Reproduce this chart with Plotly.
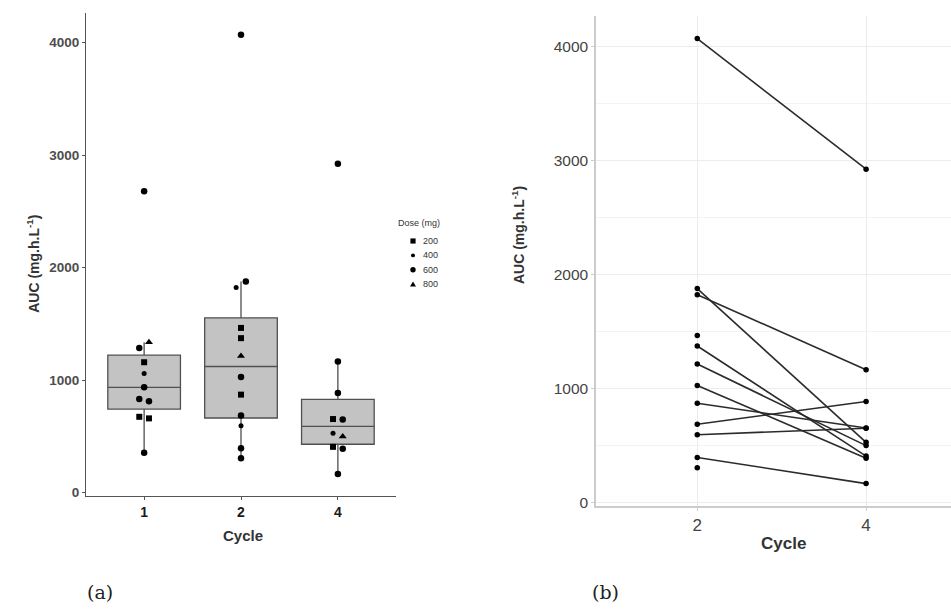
import numpy as np
import plotly.graph_objects as go

# ---------------- data ----------------
cycles = ["1", "2", "4"]

cycle1_auc = [2680, 1337, 1286, 1160, 1060, 937, 834, 813, 675, 661, 355]
cycle1_dose = [600, 800, 600, 200, 400, 600, 600, 600, 200, 200, 600]
cycle1_jitter = [0, 0.05, -0.05, 0, 0, 0, -0.05, 0.05, -0.05, 0.05, 0]

cycle2_auc = [4070, 1877, 1824, 1465, 1374, 1216, 1028, 872, 687, 596, 396, 306]
cycle2_dose = [600, 600, 400, 200, 200, 800, 600, 200, 600, 400, 600, 600]
cycle2_jitter = [0, 0.05, -0.05, 0, 0, 0, 0, 0, 0, 0, 0, 0]

cycle4_auc = [2925, 1166, 887, 655, 652, 529, 500, 408, 390, 167]
cycle4_dose = [600, 600, 600, 200, 600, 400, 800, 200, 600, 600]
cycle4_jitter = [0, 0, 0, -0.05, 0.05, -0.05, 0.05, -0.05, 0.05, 0]

# paired patients (panel b): cycle 2 -> cycle 4
pair_cycle2 = [4070, 1877, 1824, 1374, 1216, 1028, 872, 687, 596, 396]
pair_cycle4 = [2925, 529, 1166, 408, 500, 390, 655, 887, 652, 167]
# cycle 2 patients without a cycle 4 value
unpaired_cycle2 = [1465, 306]

panel_b_cycles = ["2", "4"]
doses = [200, 400, 600, 800]
y_ticks = [0, 1000, 2000, 3000, 4000]

# ---------------- styles ----------------
dose_symbol = {200: "square", 400: "circle", 600: "circle", 800: "triangle-up"}
dose_size = {200: 6, 400: 5, 600: 6.5, 800: 7}
FONT = "Liberation Sans"

auc_by_cycle = [cycle1_auc, cycle2_auc, cycle4_auc]
dose_by_cycle = [cycle1_dose, cycle2_dose, cycle4_dose]
jit_by_cycle = [cycle1_jitter, cycle2_jitter, cycle4_jitter]

fig = go.Figure()

# ---- panel (a): boxplots ----
q1s, meds, q3s, lows, highs = [], [], [], [], []
for vals in auc_by_cycle:
    a = np.array(vals, dtype=float)
    q1, med, q3 = np.percentile(a, [25, 50, 75])
    iqr = q3 - q1
    q1s.append(q1); meds.append(med); q3s.append(q3)
    lows.append(a[a >= q1 - 1.5 * iqr].min())
    highs.append(a[a <= q3 + 1.5 * iqr].max())

fig.add_trace(go.Box(
    x=list(range(len(cycles))), q1=q1s, median=meds, q3=q3s,
    lowerfence=lows, upperfence=highs, width=0.75, whiskerwidth=0,
    fillcolor="#c3c3c3", line=dict(color="#505050", width=1.3),
    boxpoints=False, showlegend=False, hoverinfo="skip",
    xaxis="x", yaxis="y"))

for d in doses:
    xs, ys = [], []
    for ci, (vals, ds, js) in enumerate(zip(auc_by_cycle, dose_by_cycle, jit_by_cycle)):
        for v, dd, j in zip(vals, ds, js):
            if dd == d:
                xs.append(ci + j)
                ys.append(v)
    fig.add_trace(go.Scatter(
        x=xs, y=ys, mode="markers", name=str(d), showlegend=False,
        marker=dict(symbol=dose_symbol[d], size=dose_size[d], color="black"),
        xaxis="x", yaxis="y"))

# ---- panel (b): paired lines ----
lx, ly = [], []
for a2, a4 in zip(pair_cycle2, pair_cycle4):
    lx += [0, 1, None]
    ly += [a2, a4, None]
fig.add_trace(go.Scatter(x=lx, y=ly, mode="lines",
                         line=dict(color="#2b2b2b", width=1.6),
                         showlegend=False, xaxis="x2", yaxis="y2"))
px = [0] * len(pair_cycle2) + [1] * len(pair_cycle4) + [0] * len(unpaired_cycle2)
py = pair_cycle2 + pair_cycle4 + unpaired_cycle2
fig.add_trace(go.Scatter(x=px, y=py, mode="markers",
                         marker=dict(color="black", size=5.5),
                         showlegend=False, xaxis="x2", yaxis="y2"))

# ---------------- layout ----------------
W, H = 951, 609
def fx(p): return p / W
def fy(p): return 1 - p / H

fig.update_layout(
    width=W, height=H, margin=dict(l=0, r=0, t=0, b=0),
    paper_bgcolor="white", plot_bgcolor="white",
    font=dict(family=FONT, color="#333333"),
    showlegend=False,
    xaxis=dict(domain=[fx(86), fx(396)], range=[-0.6, 2.6],
               tickvals=list(range(len(cycles))), ticktext=cycles,
               tickfont=dict(size=14, color="#1a1a1a", weight="bold"),
               showline=True, linecolor="#555555", linewidth=1,
               ticks="outside", ticklen=3, tickcolor="#555555",
               showgrid=False, zeroline=False, anchor="y"),
    yaxis=dict(domain=[fy(500), fy(13)], range=[-28, 4265],
               tickvals=y_ticks,
               tickfont=dict(size=13.5, color="#4d4d4d", weight="bold"),
               showline=True, linecolor="#555555", linewidth=1,
               ticks="outside", ticklen=3, tickcolor="#555555",
               showgrid=False, zeroline=False, anchor="x"),
    xaxis2=dict(domain=[fx(596), 1.0], range=[-0.6, 1.503],
                tickvals=[0, 1], ticktext=panel_b_cycles,
                tickfont=dict(size=17, color="#444444"),
                showline=True, linecolor="#cccccc", linewidth=1.5,
                ticks="outside", ticklen=3, tickcolor="#cccccc",
                showgrid=True, gridcolor="#ececec", gridwidth=1,
                zeroline=False, anchor="y2"),
    yaxis2=dict(domain=[fy(510), fy(16.5)], range=[-28, 4265],
                tickvals=y_ticks,
                tickfont=dict(size=15.5, color="#444444"),
                showline=True, linecolor="#cccccc", linewidth=1.5,
                ticks="outside", ticklen=3, tickcolor="#cccccc",
                showgrid=True, gridcolor="#ececec", gridwidth=1,
                minor=dict(tickvals=[500, 1500, 2500, 3500], showgrid=True,
                           gridcolor="#f3f3f3", gridwidth=1, ticks=""),
                zeroline=False, anchor="x2"),
)

anns = [
    dict(x=fx(33), y=fy(266), text="<b>AUC (mg.h.L<sup>-1</sup>)</b>", textangle=-90,
         font=dict(size=14, color="#333333"), xanchor="center"),
    dict(x=fx(243), y=fy(540), text="<b>Cycle</b>", font=dict(size=15, color="#333333"),
         xanchor="center"),
    dict(x=fx(518), y=fy(237), text="<b>AUC (mg.h.L<sup>-1</sup>)</b>", textangle=-90,
         font=dict(size=14, color="#333333"), xanchor="center"),
    dict(x=fx(783), y=fy(548), text="<b>Cycle</b>", font=dict(size=17, color="#333333"),
         xanchor="center"),
    dict(x=fx(100), y=fy(597), text="(a)", xanchor="center",
         font=dict(size=19, color="#222222", family="DejaVu Serif")),
    dict(x=fx(605), y=fy(597), text="(b)", xanchor="center",
         font=dict(size=19, color="#222222", family="DejaVu Serif")),
    dict(x=fx(396), y=fy(225), text="Dose (mg)", xanchor="left",
         font=dict(size=9, color="#333333")),
]

# custom compact legend (Dose)
legend_y = [243, 257.5, 272, 286.5]
shapes = []
sx = 413
for d, yy in zip(doses, legend_y):
    anns.append(dict(x=fx(421), y=fy(yy), text=str(d), xanchor="left",
                     font=dict(size=9, color="#333333")))
    if dose_symbol[d] == "square":
        r = 2.6
        shapes.append(dict(type="rect", xref="paper", yref="paper",
                           x0=fx(sx - r), x1=fx(sx + r), y0=fy(yy + r), y1=fy(yy - r),
                           fillcolor="black", line=dict(width=0)))
    elif dose_symbol[d] == "circle":
        r = 2.0 if d == 400 else 2.7
        shapes.append(dict(type="circle", xref="paper", yref="paper",
                           x0=fx(sx - r), x1=fx(sx + r), y0=fy(yy + r), y1=fy(yy - r),
                           fillcolor="black", line=dict(width=0)))
    else:
        r = 3.0
        path = "M {:.5f},{:.5f} L {:.5f},{:.5f} L {:.5f},{:.5f} Z".format(
            fx(sx - r), fy(yy + r * 0.8), fx(sx + r), fy(yy + r * 0.8), fx(sx), fy(yy - r * 0.9))
        shapes.append(dict(type="path", xref="paper", yref="paper", path=path,
                           fillcolor="black", line=dict(width=0)))

for a in anns:
    a.update(xref="paper", yref="paper", showarrow=False, yanchor="middle")
fig.update_layout(annotations=anns, shapes=shapes)

fig.write_html("out.html", config={"displayModeBar": False},
               post_script="document.body.style.margin='0px';document.body.style.padding='0px';")
